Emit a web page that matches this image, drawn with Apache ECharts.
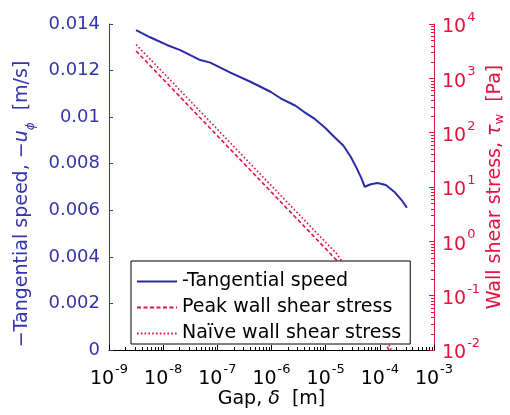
<!DOCTYPE html>
<html>
<head>
<meta charset="utf-8">
<script src="https://cdn.jsdelivr.net/npm/echarts@6/dist/echarts.min.js"></script>
<style>
  html, body { margin: 0; padding: 0; background: #fff; }
  #chart { width: 510px; height: 415px; }
</style>
</head>
<body>
<div id="chart"></div>
<script>
// Tangential speed along the gap
const speedGap = [3.16e-9, 5.74e-9, 1.17e-8, 2.07e-8, 4.84e-8, 7.41e-8, 1.74e-7, 4.08e-7,
  9.57e-7, 1.47e-6, 2.78e-6, 3.96e-6, 6.07e-6, 1.00e-5, 1.43e-5, 2.13e-5, 2.90e-5,
  3.75e-5, 4.58e-5, 5.27e-5, 6.81e-5, 9.06e-5, 1.29e-4, 1.84e-4, 2.52e-4, 3.16e-4];
const speed = [0.01374, 0.01343, 0.01310, 0.01288, 0.01245, 0.01234, 0.01191, 0.01152,
  0.01109, 0.01081, 0.01049, 0.01023, 0.00995, 0.00952, 0.00916, 0.00877, 0.00830,
  0.00780, 0.00737, 0.00701, 0.00712, 0.00717, 0.00709, 0.00680, 0.00644, 0.00611];

// Wall shear stress along the gap [Pa]
const stressGap = [3.16e-9, 1e-8, 1e-7, 1e-6, 1e-5, 1.58e-5, 3.16e-5, 6.31e-5, 1.47e-4, 2.0e-4];
const peakStress = [3186, 962, 87.7, 8.0, 0.730, 0.452, 0.178, 0.050, 0.010, 0.005];
const naiveStress = [4200, 1270, 115.6, 10.5, 0.96, 0.60, 0.225, 0.062, 0.0125, 0.0062];

// Axis ranges and tick values
const gapRange = [1e-9, 1e-3];
const speedTicks = [0, 0.002, 0.004, 0.006, 0.008, 0.01, 0.012, 0.014];
const stressRange = [1e-2, 1e4];

const seriesNames = ['-Tangential speed', 'Peak wall shear stress', 'Na\u00efve wall shear stress'];

const BLUE = '#2a2aa8';
const BLUE_TEXT = '#3434ad';
const RED = '#e3123f';
const FONT = 'DejaVu Sans';

// logarithmic minor ticks (2..9 within each decade)
function decadeMinors(range) {
  const out = [];
  const e0 = Math.round(Math.log10(range[0]));
  const e1 = Math.round(Math.log10(range[1]));
  for (let e = e0; e < e1; e++) {
    for (let m = 2; m <= 9; m++) out.push(m * Math.pow(10, e));
  }
  return out;
}
const gapMinorTicks = decadeMinors(gapRange);
const stressMinorTicks = decadeMinors(stressRange);

const pow10Label = v => {
  const e = Math.round(Math.log10(v));
  return '{b|10}{s|' + e + '}';
};
const powRich = color => ({
  b: { fontFamily: FONT, fontSize: 19, color: color, verticalAlign: 'bottom', lineHeight: 26 },
  s: { fontFamily: FONT, fontSize: 13, color: color, verticalAlign: 'top', lineHeight: 26, padding: [0, 0, 0, 1] }
});

const chart = echarts.init(document.getElementById('chart'), null, { renderer: 'canvas' });

chart.setOption({
  animation: false,
  backgroundColor: '#ffffff',
  grid: { left: 109, right: 76, top: 24, bottom: 65, containLabel: false, outerBoundsMode: 'none' },
  legend: {
    orient: 'vertical',
    left: 131,
    top: 261,
    width: 281,
    padding: [11, 9, 1, 5],
    itemGap: 7,
    itemWidth: 40,
    itemHeight: 14,
    backgroundColor: '#ffffff',
    borderColor: '#000000',
    borderWidth: 1,
    borderRadius: 0,
    itemStyle: { color: 'transparent', borderColor: 'transparent', borderWidth: 0, opacity: 0 },
    textStyle: { fontFamily: FONT, fontSize: 19, color: '#000000' },
    data: seriesNames
  },
  xAxis: {
    type: 'log',
    logBase: 10,
    min: gapRange[0],
    max: gapRange[1],
    name: 'Gap, {i|\u03b4}  [m]',
    nameLocation: 'middle',
    nameGap: 40,
    nameMoveOverlap: false,
    nameTextStyle: {
      fontFamily: FONT, fontSize: 19, color: '#000000',
      rich: { i: { fontFamily: FONT, fontSize: 19, fontStyle: 'italic', color: '#000000' } }
    },
    axisLine: { lineStyle: { color: '#000000', width: 1 } },
    axisTick: { inside: true, length: 5, lineStyle: { color: '#000000' } },
    minorTick: { show: false },
    splitLine: { show: false },
    axisLabel: { margin: 13, formatter: pow10Label, rich: powRich('#000000') }
  },
  yAxis: [
    {
      type: 'value',
      position: 'left',
      min: speedTicks[0],
      max: speedTicks[speedTicks.length - 1],
      interval: 0.002,
      name: '{n|\u2212Tangential speed, \u2212}{i|u}{sub|\u03d5}{n|  [m/s]}',
      nameLocation: 'middle',
      nameGap: 72,
      nameMoveOverlap: false,
      nameTextStyle: {
        padding: [0, 34, 0, 0],
        rich: {
          n: { fontFamily: FONT, fontSize: 19, color: BLUE_TEXT },
          i: { fontFamily: FONT, fontSize: 19, fontStyle: 'italic', color: BLUE_TEXT },
          sub: { fontFamily: FONT, fontSize: 12, fontStyle: 'italic', color: BLUE_TEXT, verticalAlign: 'bottom', lineHeight: 30 }
        }
      },
      axisLine: { show: true, lineStyle: { color: BLUE_TEXT, width: 1 } },
      axisTick: { show: true, inside: true, length: 4, lineStyle: { color: BLUE_TEXT } },
      splitLine: { show: false },
      axisLabel: { margin: 9, fontFamily: FONT, fontSize: 18, color: BLUE_TEXT }
    },
    {
      type: 'log',
      logBase: 10,
      position: 'right',
      min: stressRange[0],
      max: stressRange[1],
      name: '{n|Wall shear stress, }{i|\u03c4}{sub|w}{n|  [Pa]}',
      nameLocation: 'middle',
      nameGap: 50,
      nameMoveOverlap: false,
      nameTextStyle: {
        rich: {
          n: { fontFamily: FONT, fontSize: 19, color: RED, lineHeight: 22 },
          i: { fontFamily: FONT, fontSize: 19, fontStyle: 'italic', color: RED, lineHeight: 22 },
          sub: { fontFamily: FONT, fontSize: 13, color: RED, verticalAlign: 'bottom', lineHeight: 12 }
        }
      },
      axisLine: { show: true, lineStyle: { color: RED, width: 1 } },
      axisTick: { show: true, inside: true, length: 5, lineStyle: { color: RED } },
      minorTick: { show: false },
      splitLine: { show: false },
      axisLabel: { margin: 8, formatter: pow10Label, rich: powRich(RED) }
    }
  ],
  series: [
    {
      name: seriesNames[0],
      type: 'line',
      yAxisIndex: 0,
      symbol: 'none',
      clip: true,
      color: BLUE,
      lineStyle: { color: BLUE, width: 2 },
      data: speedGap.map((g, i) => [g, speed[i]])
    },
    {
      name: seriesNames[1],
      type: 'line',
      yAxisIndex: 1,
      symbol: 'none',
      clip: true,
      color: RED,
      lineStyle: { color: RED, width: 1.6, type: [4, 2.5] },
      data: stressGap.map((g, i) => [g, peakStress[i]])
    },
    {
      name: seriesNames[2],
      type: 'line',
      yAxisIndex: 1,
      symbol: 'none',
      clip: true,
      color: RED,
      lineStyle: { color: RED, width: 1.6, type: [1.6, 2.2] },
      data: stressGap.map((g, i) => [g, naiveStress[i]])
    },
    {
      // minor ticks on the gap axis, placed through the log scale
      type: 'custom',
      yAxisIndex: 0,
      silent: true,
      clip: false,
      z: 5,
      data: gapMinorTicks.map(v => [v, speedTicks[0]]),
      renderItem: (params, api) => {
        const p = api.coord([api.value(0), api.value(1)]);
        const x = Math.round(p[0]) + 0.5;
        return { type: 'line', shape: { x1: x, y1: p[1], x2: x, y2: p[1] - 3 }, style: { stroke: '#000000', lineWidth: 1 } };
      }
    },
    {
      // minor ticks on the stress axis
      type: 'custom',
      yAxisIndex: 1,
      silent: true,
      clip: false,
      z: 5,
      data: stressMinorTicks.map(v => [gapRange[1], v]),
      renderItem: (params, api) => {
        const p = api.coord([api.value(0), api.value(1)]);
        const y = Math.round(p[1]) + 0.5;
        return { type: 'line', shape: { x1: p[0], y1: y, x2: p[0] - 3, y2: y }, style: { stroke: RED, lineWidth: 1 } };
      }
    }
  ]
});
</script>
</body>
</html>
